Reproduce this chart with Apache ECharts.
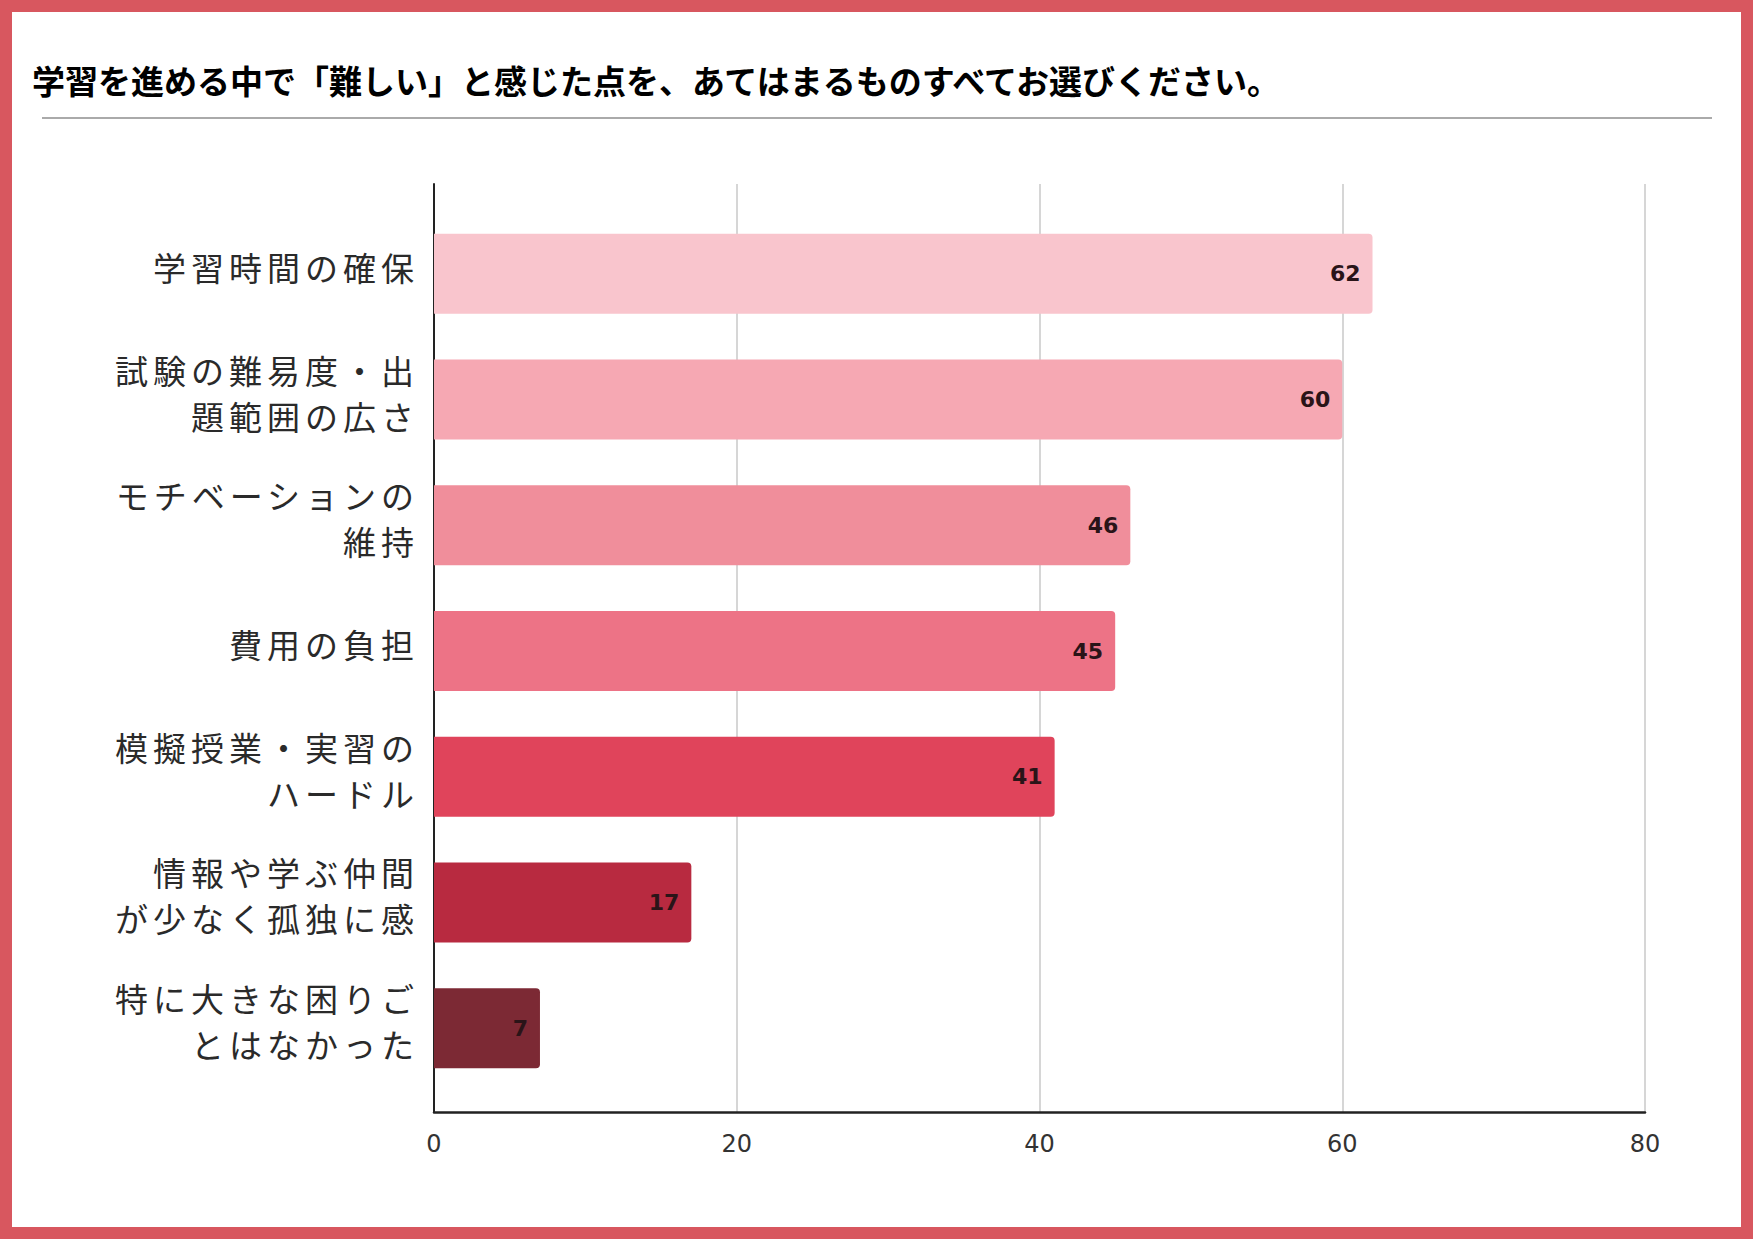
<!DOCTYPE html>
<html>
<head>
<meta charset="utf-8">
<script src="https://cdn.jsdelivr.net/npm/echarts@6/dist/echarts.min.js"></script>
<style>
  html, body { margin: 0; padding: 0; background: #ffffff; }
  #chart { width: 1753px; height: 1240px; }
  #chart text[style*="33px"][text-anchor="end"] { letter-spacing: 5px; }
</style>
</head>
<body>
<div id="chart"></div>
<script>
const titleText = '学習を進める中で「難しい」と感じた点を、あてはまるものすべてお選びください。';
const categories = [
  '学習時間の確保',
  '試験の難易度・出\n題範囲の広さ',
  'モチベーションの\n維持',
  '費用の負担',
  '模擬授業・実習の\nハードル',
  '情報や学ぶ仲間\nが少なく孤独に感',
  '特に大きな困りご\nとはなかった'
];
const values = [62, 60, 46, 45, 41, 17, 7];
const barColors = ['#f9c5cd', '#f6a8b3', '#f08e9b', '#ed7386', '#e0445b', '#b82a40', '#7c2934'];
const xTicks = [0, 20, 40, 60, 80];

const chart = echarts.init(document.getElementById('chart'), null, { renderer: 'svg', width: 1753, height: 1240 });

const option = {
  backgroundColor: '#ffffff',
  animation: false,
  title: {
    text: titleText,
    left: 27,
    top: 58,
    textStyle: {
      fontFamily: 'Noto Sans CJK JP',
      fontSize: 33,
      fontWeight: 'bold',
      color: '#000000'
    }
  },
  graphic: [
    {
      type: 'rect',
      shape: { x: 6, y: 6, width: 1741, height: 1227 },
      style: { fill: 'none', stroke: '#d8575f', lineWidth: 12 },
      silent: true
    },
    {
      type: 'line',
      shape: { x1: 42, y1: 118, x2: 1712, y2: 118 },
      style: { stroke: '#aaaaaa', lineWidth: 2 },
      silent: true
    }
  ],
  grid: [
    { left: 434, right: 108, top: 184, bottom: 128 },
    { left: 434, right: 108, top: 211, bottom: 149 },
    { left: 434, right: 108, top: 204, bottom: 156 }
  ],
  xAxis: [
    {
      gridIndex: 0,
      type: 'value',
      min: xTicks[0],
      max: xTicks[xTicks.length - 1],
      interval: xTicks[1] - xTicks[0],
      axisLine: { show: true, lineStyle: { color: '#222222', width: 2.5 } },
      axisTick: { show: false },
      axisLabel: {
        margin: 20,
        fontFamily: 'DejaVu Sans',
        fontSize: 24,
        color: '#333333'
      },
      splitLine: { show: true, lineStyle: { color: '#c8c8c8', width: 1.5 } }
    },
    {
      gridIndex: 1,
      type: 'value',
      min: xTicks[0],
      max: xTicks[xTicks.length - 1],
      show: false,
      splitLine: { show: false }
    },
    {
      gridIndex: 2,
      type: 'value',
      min: xTicks[0],
      max: xTicks[xTicks.length - 1],
      show: false,
      splitLine: { show: false }
    }
  ],
  yAxis: [
    {
      gridIndex: 0,
      type: 'category',
      data: [''],
      axisLine: { show: true, lineStyle: { color: '#222222', width: 2 } },
      axisTick: { show: false },
      axisLabel: { show: false },
      splitLine: { show: false }
    },
    {
      gridIndex: 1,
      type: 'category',
      inverse: true,
      data: categories,
      axisLine: { show: false },
      axisTick: { show: false },
      axisLabel: { show: false },
      splitLine: { show: false }
    },
    {
      gridIndex: 2,
      type: 'category',
      inverse: true,
      data: categories,
      axisLine: { show: false },
      axisTick: { show: false },
      axisLabel: {
        margin: 15,
        fontFamily: 'Noto Sans CJK JP',
        fontSize: 33,
        lineHeight: 46,
        color: '#2a2a2a',
        align: 'right'
      },
      splitLine: { show: false }
    }
  ],
  series: [
    {
      type: 'bar',
      xAxisIndex: 1,
      yAxisIndex: 1,
      barWidth: 80,
      data: values.map((v, i) => ({ value: v, itemStyle: { color: barColors[i] } })),
      itemStyle: { borderRadius: [0, 4, 4, 0] },
      label: {
        show: true,
        position: 'insideRight',
        distance: 12,
        fontFamily: 'DejaVu Sans',
        fontSize: 22,
        fontWeight: 'bold',
        color: '#2a1418'
      }
    }
  ]
};
chart.setOption(option);
</script>
</body>
</html>
